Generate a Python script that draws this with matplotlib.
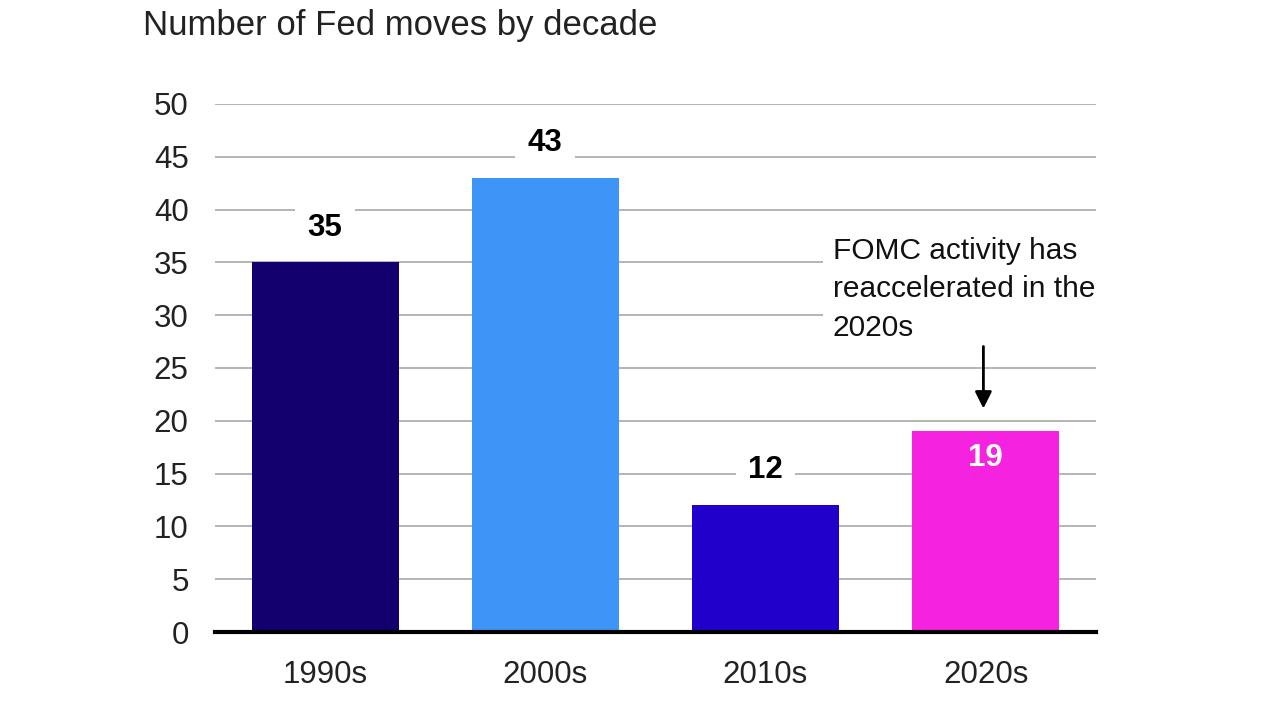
import matplotlib.pyplot as plt

decades = ["1990s", "2000s", "2010s", "2020s"]
moves = [35, 43, 12, 19]
colors = ["#13006e", "#3f95f7", "#2200cc", "#f523e0"]
yticks = [0, 5, 10, 15, 20, 25, 30, 35, 40, 45, 50]

plt.rcParams['font.family'] = ['Liberation Sans', 'DejaVu Sans']

fig = plt.figure(figsize=(12.8, 7.2), dpi=100)
ax = fig.add_axes([0.168, 0.1222, 0.688, 0.7334])

x = range(len(decades))
ax.bar(x, moves, width=0.667, color=colors, zorder=2)

ax.set_xlim(-0.5, 3.5)
ax.set_ylim(0, 50)
ax.set_yticks(yticks)
ax.set_xticks(list(x))
ax.set_xticklabels(decades)
ax.tick_params(axis='both', length=0, labelsize=22.5, colors='#222222')
ax.tick_params(axis='y', pad=19)
ax.tick_params(axis='x', pad=20)
ax.grid(axis='y', color='#b4b4b4', linewidth=1.4, zorder=0)
for s in ['top', 'right', 'left']:
    ax.spines[s].set_visible(False)
ax.spines['bottom'].set_linewidth(3)
ax.spines['bottom'].set_color('black')
ax.spines['bottom'].set_zorder(3)

# value labels (white box hides gridlines)
for i, v in enumerate(moves):
    if i == 3:
        ax.text(i, v - 2.5, str(v), ha='center', va='center', fontsize=22.5,
                fontweight='bold', color='white', zorder=4)
    else:
        ax.text(i, v + 3.3, str(v), ha='center', va='center', fontsize=22.5,
                fontweight='bold', color='black', zorder=4,
                bbox=dict(facecolor='white', edgecolor='none', pad=9))

ax.text(2.306, 37.4, "FOMC activity has\nreaccelerated in the\n2020s", ha='left', va='top',
        fontsize=21.5, color='#111111', linespacing=1.47, zorder=4,
        bbox=dict(facecolor='white', edgecolor='none', pad=7))
ax.annotate("", xy=(2.99, 20.9), xytext=(2.99, 27.3),
            arrowprops=dict(arrowstyle='-|>', color='black', lw=2, mutation_scale=25),
            zorder=4)

fig.text(143 / 1280, 1 - 25 / 720, "Number of Fed moves by decade", ha='left', va='center',
         fontsize=25, color='#222222')

fig.savefig("out.png", dpi=100, facecolor='white')
